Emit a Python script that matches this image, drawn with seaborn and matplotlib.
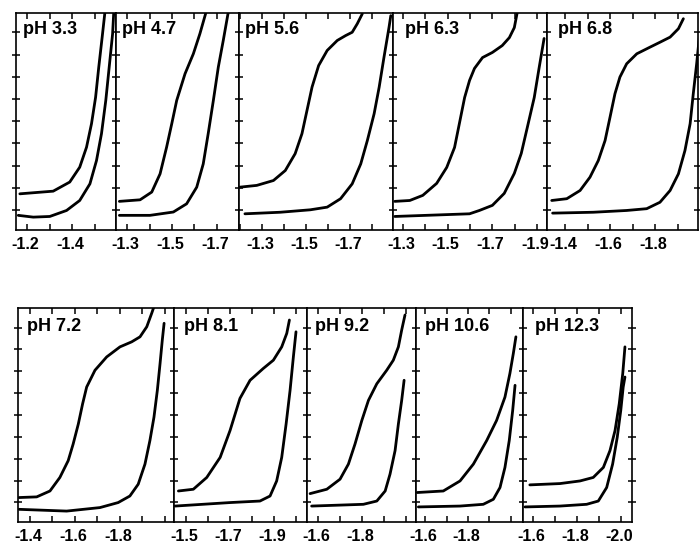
import matplotlib
matplotlib.use("Agg")
import matplotlib.pyplot as plt
import numpy as np
import pandas as pd
import seaborn as sns
from matplotlib.ticker import FuncFormatter, FixedLocator
from matplotlib.transforms import ScaledTranslation
from matplotlib import font_manager

# ---------------- data (potential in V, current in arbitrary units) ----------------
ph_labels = ["pH 3.3", "pH 4.7", "pH 5.6", "pH 6.3", "pH 6.8",
             "pH 7.2", "pH 8.1", "pH 9.2", "pH 10.6", "pH 12.3"]

# x tick labels for each panel
ticklabels_ph33 = [-1.2, -1.4]
ticklabels_ph47 = [-1.3, -1.5, -1.7]
ticklabels_ph56 = [-1.3, -1.5, -1.7]
ticklabels_ph63 = [-1.3, -1.5, -1.7, -1.9]
ticklabels_ph68 = [-1.4, -1.6, -1.8]
ticklabels_ph72 = [-1.4, -1.6, -1.8]
ticklabels_ph81 = [-1.5, -1.7, -1.9]
ticklabels_ph92 = [-1.6, -1.8]
ticklabels_ph106 = [-1.6, -1.8]
ticklabels_ph123 = [-1.6, -1.8, -2.0]

ph33_upper_x = [-1.169, -1.316, -1.389, -1.433, -1.463, -1.485, -1.503, -1.517, -1.532, -1.544]
ph33_upper_y = [1.73, 1.85, 2.26, 2.93, 3.83, 4.89, 6.08, 7.44, 8.79, 9.90]
ph33_lower_x = [-1.162, -1.228, -1.301, -1.375, -1.433, -1.478, -1.507, -1.529, -1.548, -1.563, -1.578, -1.583]
ph33_lower_y = [0.76, 0.68, 0.71, 0.98, 1.43, 2.18, 3.23, 4.44, 5.94, 7.44, 8.94, 9.90]

ph47_upper_x = [-1.266, -1.358, -1.410, -1.447, -1.476, -1.499, -1.521, -1.558, -1.595, -1.624, -1.651]
ph47_upper_y = [1.39, 1.46, 1.81, 2.63, 3.83, 4.89, 5.94, 7.14, 8.04, 8.94, 9.90]
ph47_lower_x = [-1.266, -1.402, -1.506, -1.565, -1.610, -1.639, -1.661, -1.684, -1.706, -1.728, -1.750]
ph47_lower_y = [0.76, 0.76, 0.91, 1.28, 2.03, 3.08, 4.44, 5.94, 7.44, 8.64, 9.90]

ph56_upper_x = [-1.199, -1.276, -1.352, -1.406, -1.451, -1.482, -1.505, -1.528, -1.558, -1.597,
                -1.643, -1.681, -1.711, -1.734, -1.757]
ph56_upper_y = [2.03, 2.11, 2.33, 2.78, 3.54, 4.44, 5.49, 6.54, 7.51, 8.19,
                8.64, 8.86, 9.01, 9.39, 9.84]
ph56_lower_x = [-1.222, -1.383, -1.520, -1.597, -1.658, -1.711, -1.750, -1.780, -1.811, -1.834,
                -1.856, -1.879, -1.887]
ph56_lower_y = [0.83, 0.90, 1.01, 1.13, 1.51, 2.18, 3.08, 4.13, 5.34, 6.54, 7.89, 9.24, 9.76]

ph63_upper_x = [-1.264, -1.331, -1.389, -1.451, -1.496, -1.531, -1.558, -1.576, -1.598, -1.620,
                -1.656, -1.700, -1.744, -1.776, -1.798, -1.811]
ph63_upper_y = [1.39, 1.43, 1.66, 2.20, 2.92, 3.82, 5.17, 6.07, 6.84, 7.38,
                7.87, 8.10, 8.41, 8.77, 9.22, 9.90]
ph63_lower_x = [-1.264, -1.598, -1.642, -1.700, -1.753, -1.798, -1.829, -1.856, -1.887, -1.909, -1.931]
ph63_lower_y = [0.71, 0.83, 0.98, 1.21, 1.75, 2.65, 3.55, 4.72, 6.07, 7.42, 8.73]

ph68_upper_x = [-1.341, -1.408, -1.467, -1.511, -1.548, -1.578, -1.600, -1.622, -1.644, -1.674,
                -1.719, -1.778, -1.822, -1.867, -1.904, -1.926]
ph68_upper_y = [1.43, 1.51, 1.88, 2.48, 3.23, 4.13, 5.18, 6.24, 6.99, 7.59,
                8.04, 8.34, 8.56, 8.79, 9.17, 9.62]
ph68_lower_x = [-1.345, -1.526, -1.674, -1.763, -1.822, -1.867, -1.904, -1.933, -1.956, -1.970,
                -1.985, -1.997]
ph68_lower_y = [0.86, 0.90, 0.98, 1.06, 1.35, 1.88, 2.63, 3.68, 4.89, 6.24, 7.59, 8.79]

ph72_upper_x = [-1.352, -1.430, -1.489, -1.533, -1.570, -1.592, -1.615, -1.634, -1.652, -1.689,
                -1.741, -1.800, -1.852, -1.889, -1.919, -1.941, -1.949]
ph72_upper_y = [1.22, 1.25, 1.52, 2.14, 2.91, 3.67, 4.59, 5.51, 6.28, 7.05,
                7.66, 8.12, 8.35, 8.58, 9.04, 9.66, 9.90]
ph72_lower_x = [-1.352, -1.563, -1.711, -1.792, -1.844, -1.881, -1.911, -1.933, -1.951, -1.966,
                -1.978, -1.988, -1.996]
ph72_lower_y = [0.68, 0.60, 0.76, 0.99, 1.29, 1.83, 2.75, 3.83, 4.90, 6.13, 7.35, 8.43, 9.20]

ph81_upper_x = [-1.465, -1.533, -1.594, -1.655, -1.700, -1.745, -1.791, -1.851, -1.897, -1.935,
                -1.958, -1.970]
ph81_upper_y = [1.52, 1.60, 2.14, 3.06, 4.29, 5.76, 6.59, 7.13, 7.51, 8.12, 8.74, 9.35]
ph81_lower_x = [-1.450, -1.700, -1.836, -1.882, -1.912, -1.935, -1.955, -1.973, -1.988, -2.000]
ph81_lower_y = [0.83, 0.99, 1.06, 1.29, 1.98, 3.06, 4.59, 6.13, 7.66, 8.81]

ph92_upper_x = [-1.564, -1.640, -1.700, -1.738, -1.768, -1.799, -1.829, -1.867, -1.912, -1.942,
                -1.965, -1.980, -1.995]
ph92_upper_y = [1.40, 1.60, 2.06, 2.75, 3.67, 4.75, 5.67, 6.43, 7.05, 7.51, 8.12, 8.89, 9.58]
ph92_lower_x = [-1.571, -1.806, -1.867, -1.905, -1.927, -1.950, -1.965, -1.980, -1.991]
ph92_lower_y = [0.83, 0.91, 1.06, 1.52, 2.29, 3.37, 4.59, 5.67, 6.59]

ph106_upper_x = [-1.564, -1.685, -1.763, -1.825, -1.887, -1.933, -1.972, -1.995, -2.011, -2.023]
ph106_upper_y = [1.45, 1.52, 1.98, 2.75, 3.83, 4.75, 5.82, 6.90, 7.82, 8.58]
ph106_lower_x = [-1.569, -1.763, -1.871, -1.918, -1.949, -1.972, -1.992, -2.008, -2.019]
ph106_lower_y = [0.79, 0.83, 0.91, 1.14, 1.68, 2.60, 3.83, 5.21, 6.36]

ph123_upper_x = [-1.586, -1.723, -1.814, -1.874, -1.920, -1.950, -1.973, -1.992, -2.008, -2.018]
ph123_upper_y = [1.80, 1.86, 1.98, 2.14, 2.60, 3.37, 4.29, 5.51, 6.90, 8.12]
ph123_lower_x = [-1.564, -1.723, -1.844, -1.897, -1.935, -1.962, -1.983, -1.999, -2.010, -2.018]
ph123_lower_y = [0.79, 0.83, 0.91, 1.06, 1.68, 2.75, 3.98, 5.21, 6.28, 6.74]

curves = [
    (ph33_upper_x, ph33_upper_y, ph33_lower_x, ph33_lower_y, ticklabels_ph33),
    (ph47_upper_x, ph47_upper_y, ph47_lower_x, ph47_lower_y, ticklabels_ph47),
    (ph56_upper_x, ph56_upper_y, ph56_lower_x, ph56_lower_y, ticklabels_ph56),
    (ph63_upper_x, ph63_upper_y, ph63_lower_x, ph63_lower_y, ticklabels_ph63),
    (ph68_upper_x, ph68_upper_y, ph68_lower_x, ph68_lower_y, ticklabels_ph68),
    (ph72_upper_x, ph72_upper_y, ph72_lower_x, ph72_lower_y, ticklabels_ph72),
    (ph81_upper_x, ph81_upper_y, ph81_lower_x, ph81_lower_y, ticklabels_ph81),
    (ph92_upper_x, ph92_upper_y, ph92_lower_x, ph92_lower_y, ticklabels_ph92),
    (ph106_upper_x, ph106_upper_y, ph106_lower_x, ph106_lower_y, ticklabels_ph106),
    (ph123_upper_x, ph123_upper_y, ph123_lower_x, ph123_lower_y, ticklabels_ph123),
]

# ---------------- layout ----------------
W, H = 700, 547
# (left px, right px, top px, bottom px, xlim left, xlim right, label dx px, label dy px)
layout = [
    (16, 116, 12.5, 230, -1.152, -1.593, 7, 9),
    (116, 239, 12.5, 230, -1.251, -1.798, 6, 9),
    (239, 393, 12.5, 230, -1.195, -1.897, 6, 9),
    (393, 547, 12.5, 230, -1.256, -1.944, 12, 9),
    (547, 698, 12.5, 230, -1.320, -1.991, 11, 9),
    (18, 174, 308, 522, -1.347, -2.040, 9, 10),
    (174, 307, 308, 522, -1.445, -2.050, 10, 10),
    (307, 416, 308, 522, -1.550, -2.045, 8, 10),
    (416, 523, 308, 522, -1.558, -2.056, 9, 10),
    (523, 632, 308, 522, -1.555, -2.050, 12, 10),
]
last_in_row = {4, 9}

sns.set_style("ticks")
names = {f.name for f in font_manager.fontManager.ttflist}
tick_font = "Liberation Sans Narrow" if "Liberation Sans Narrow" in names else "Liberation Sans"
plt.rcParams["font.family"] = ["Liberation Sans", "DejaVu Sans"]
plt.rcParams["axes.linewidth"] = 1.2

fig = plt.figure(figsize=(W / 100, H / 100), dpi=100)
fig.patch.set_facecolor("white")

axes = []
for i, ((ux, uy, lx, ly, tl), (l, r, t, b, x0, x1, dx, dy)) in enumerate(zip(curves, layout)):
    ax = fig.add_axes([l / W, 1 - b / H, (r - l) / W, (b - t) / H])
    df_u = pd.DataFrame({"E": ux, "I": uy})
    df_l = pd.DataFrame({"E": lx, "I": ly})
    for df in (df_u, df_l):
        sns.lineplot(data=df, x="E", y="I", ax=ax, color="black", lw=2.0,
                     sort=False, estimator=None,
                     solid_joinstyle="round", solid_capstyle="round")
    ax.set_xlim(x0, x1)
    ax.set_ylim(0.1, 9.9)
    ax.set_xlabel("")
    ax.set_ylabel("")
    ax.set_facecolor("white")
    for s in ax.spines.values():
        s.set_color("black")
        s.set_linewidth(1.2)

    lo, hi = min(x0, x1), max(x0, x1)
    tpos = [round(v, 1) for v in np.arange(-2.2, -1.0, 0.1) if lo <= v <= hi]
    ax.xaxis.set_major_locator(FixedLocator(tpos))
    labelled = {round(v, 1) for v in tl}
    ax.xaxis.set_major_formatter(FuncFormatter(
        lambda v, p, labelled=labelled: ("-%.1f" % abs(v)) if round(v, 1) in labelled else ""))
    ax.set_yticks(range(1, 10))
    ax.set_yticklabels([])
    ax.tick_params(axis="x", which="major", direction="in", length=4, width=1.1,
                   top=True, bottom=True, pad=5, labelsize=11.5, colors="black")
    ax.tick_params(axis="y", which="major", direction="inout", length=6, width=1.1,
                   left=True, right=False, colors="black")
    if i in last_in_row:
        ax.tick_params(axis="y", right=True)
    for lbl in ax.get_xticklabels():
        lbl.set_fontfamily([tick_font, "DejaVu Sans"])
        lbl.set_fontweight("bold")
    ax.annotate(ph_labels[i], xy=(0, 1), xycoords="axes fraction",
                xytext=(dx * 0.72, -dy * 0.72), textcoords="offset points",
                ha="left", va="top", fontsize=13, fontweight="bold", color="black")
    axes.append(ax)

fig.canvas.draw()
shift = ScaledTranslation(-2 / 100, 0, fig.dpi_scale_trans)
for ax in axes:
    for lbl in ax.get_xticklabels():
        lbl.set_transform(lbl.get_transform() + shift)

fig.savefig("out.png", dpi=100, facecolor="white")
